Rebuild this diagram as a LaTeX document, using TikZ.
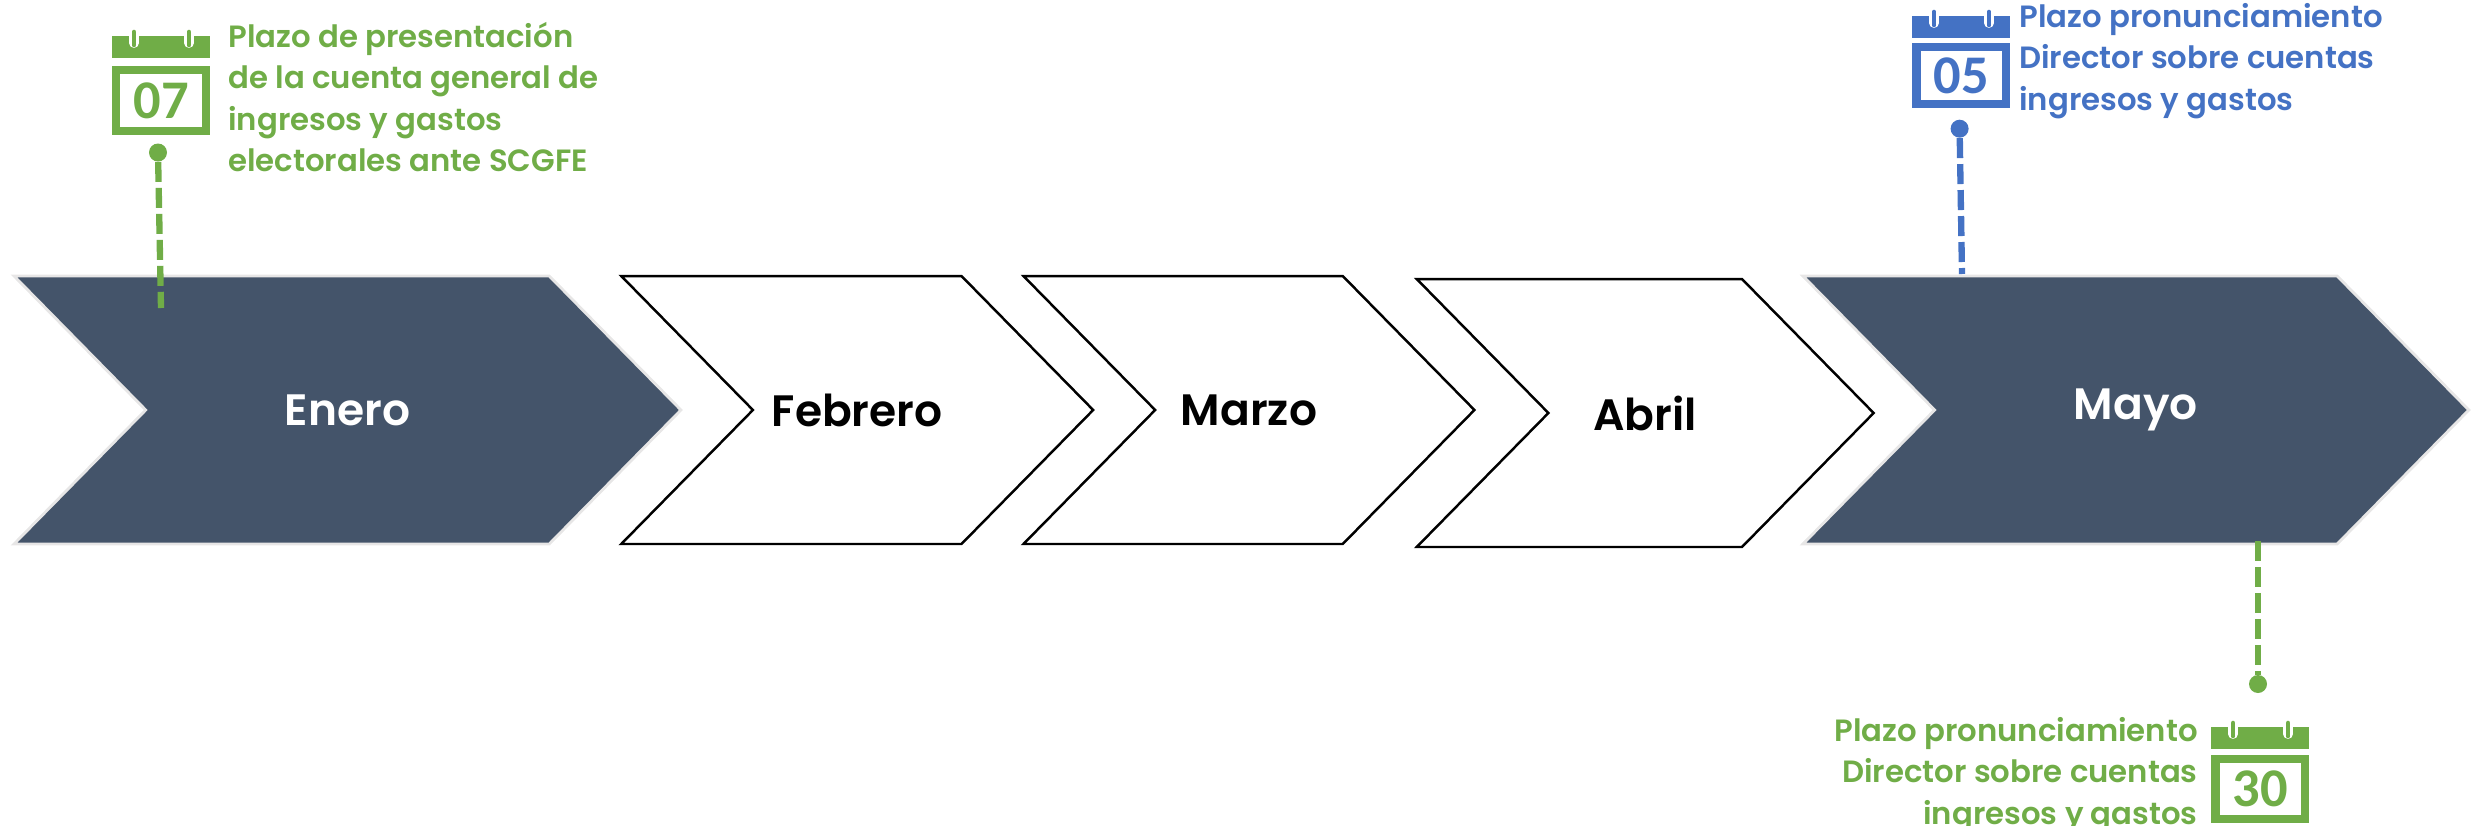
\documentclass[tikz,border=0pt]{standalone}
\usepackage{fontspec}
\setmainfont{Poppins}[BoldFont=Poppins SemiBold]
\newfontfamily\numfont{Carlito}
\usetikzlibrary{positioning, shapes.symbols}
\definecolor{plazo-green}{RGB}{112,173,71}
\definecolor{plazo-blue}{RGB}{68,114,196}
\definecolor{mes-dark}{RGB}{68,84,106}
\definecolor{mes-edge}{RGB}{231,230,230}

\begin{document}
\begin{tikzpicture}
    [x=0.02cm, y=-0.02cm,
    mes/.style = {signal, signal from=west, signal to=east, signal pointer angle=91,
            inner sep=0pt, outer sep=0pt, minimum height=5.36cm, font=\bfseries\fontsize{25}{30}\selectfont},
    mesdark/.style = {mes, draw=mes-edge, line width=1.6pt, fill=mes-dark, text=white},
    mesblank/.style = {mes, draw=black, line width=1.4pt, fill=white, text=black},
    plazo/.style = {align=left, inner sep=0pt, font=\bfseries\fontsize{17.5}{23.5}\selectfont},
    ball/.style = {circle, inner sep=0pt, minimum size=0.36cm},
    lead/.style = {line width=3.6pt, dash pattern=on 0.4cm off 0.12cm},
    calband/.style = {fill, inner sep=0pt, minimum width=1.96cm, minimum height=0.44cm},
    calbox/.style = {draw, line width=4.8pt, fill=white, inner sep=0pt, minimum width=1.79cm,
            font=\numfont\bfseries\fontsize{31}{31}\selectfont},
    calendar/.pic = {
        \node[calband, anchor=north west, text=.] (band) at (0,0) {};
        \foreach \ringx in {22,77} {
            \draw[white, line width=5.6pt, line cap=round] (\ringx,-5) -- (\ringx,7);
            \draw[line width=2.6pt, line cap=round, draw=.] (\ringx,-4) -- (\ringx,9);
        }
    },
    ]

    \useasboundingbox (0,0) rectangle (2474,825);

    % meses
    \node[mesdark, minimum width=13.34cm] (enero) at (347.5,410) {Enero};
    \node[mesblank, minimum width=9.44cm, right=1.44cm of enero] (febrero) {Febrero};
    \node[mesblank, minimum width=9.02cm, right=1.24cm of febrero] (marzo) {Marzo};
    \node[mesblank, minimum width=9.14cm, right=1.48cm of marzo, yshift=-0.06cm] (abril) {Abril};
    \node[mesdark, minimum width=13.32cm, right=1.22cm of abril, yshift=0.06cm] (mayo) {Mayo};

    % calendarios
    \begin{scope}[color=plazo-green]
        \pic (cal-a) at (112,36) {calendar};
        \node[calbox, draw=plazo-green, text=plazo-green, minimum height=1.23cm] (num-a) at (161,100.5) {07};
        \node[ball, fill=plazo-green] (ball-a) at (158,152.5) {};
    \end{scope}
    \begin{scope}[color=plazo-blue]
        \pic (cal-b) at (1912,16) {calendar};
        \node[calbox, draw=plazo-blue, text=plazo-blue, minimum height=1.13cm] (num-b) at (1961,75.5) {05};
        \node[ball, fill=plazo-blue] (ball-b) at (1959.6,128.7) {};
    \end{scope}
    \begin{scope}[color=plazo-green]
        \pic (cal-c) at (2211,727) {calendar};
        \node[calbox, draw=plazo-green, text=plazo-green, minimum height=1.19cm] (num-c) at (2260,789) {30};
        \node[ball, fill=plazo-green] (ball-c) at (2258,684) {};
    \end{scope}

    % textos
    \node[plazo, text=plazo-green, anchor=north west] (txt-a) at (228,22) {Plazo de presentación\\de la cuenta general de\\ingresos y gastos\\electorales ante SCGFE};
    \node[plazo, text=plazo-blue, anchor=north west] (txt-b) at (2019,3) {Plazo pronunciamiento\\Director sobre cuentas\\ingresos y gastos};
    \node[plazo, text=plazo-green, align=right, anchor=north east] (txt-c) at (2198,717) {Plazo pronunciamiento\\Director sobre cuentas\\ingresos y gastos};

    % plazos
    \coordinate (top-enero) at (161,308);
    \coordinate (top-mayo) at (1962,274);
    \coordinate (bot-mayo) at (2258,541);
    \draw[lead, plazo-green] (ball-a) -- (top-enero);
    \draw[lead, plazo-blue] (ball-b) -- (top-mayo);
    \draw[lead, plazo-green] (bot-mayo) -- (ball-c);
\end{tikzpicture}
\end{document}
